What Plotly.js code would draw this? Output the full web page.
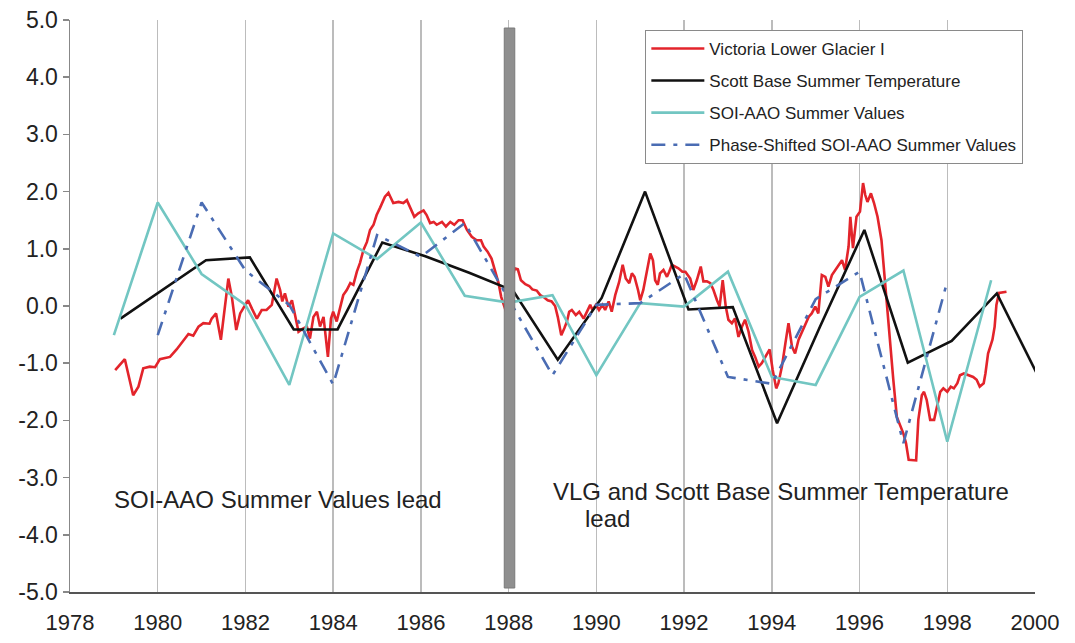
<!DOCTYPE html>
<html>
<head>
<meta charset="utf-8">
<script src="https://cdn.plot.ly/plotly-3.0.1.min.js"></script>
<style>
html,body{margin:0;padding:0;background:#fff;}
#chart{width:1075px;height:643px;}
</style>
</head>
<body>
<div id="chart"></div>
<script>
// Victoria Lower Glacier I (red)
const vlgYears = [1979.03,1979.25,1979.44,1979.56,1979.67,1979.82,1979.94,1980.05,1980.17,1980.28,1980.43,1980.58,1980.70,1980.81,1980.93,1981.04,1981.18,1981.23,1981.33,1981.44,1981.53,1981.61,1981.69,1981.79,1981.88,1981.97,1982.06,1982.15,1982.26,1982.37,1982.48,1982.60,1982.71,1982.79,1982.84,1982.90,1982.98,1983.06,1983.13,1983.21,1983.30,1983.40,1983.47,1983.55,1983.63,1983.70,1983.78,1983.88,1983.95,1984.00,1984.08,1984.16,1984.23,1984.31,1984.39,1984.46,1984.54,1984.61,1984.69,1984.77,1984.84,1984.92,1984.99,1985.07,1985.18,1985.26,1985.37,1985.49,1985.60,1985.68,1985.75,1985.85,1985.94,1986.06,1986.13,1986.21,1986.29,1986.36,1986.48,1986.57,1986.67,1986.76,1986.86,1986.95,1987.05,1987.16,1987.27,1987.37,1987.43,1987.52,1987.61,1987.69,1987.77,1987.83,1987.88,1987.94,1988.00,1988.07,1988.13,1988.21,1988.28,1988.38,1988.47,1988.54,1988.64,1988.72,1988.79,1988.89,1988.98,1989.06,1989.12,1989.20,1989.27,1989.33,1989.38,1989.44,1989.53,1989.61,1989.71,1989.78,1989.86,1989.91,1989.99,1990.06,1990.14,1990.20,1990.28,1990.35,1990.43,1990.52,1990.60,1990.67,1990.75,1990.81,1990.87,1990.95,1991.00,1991.07,1991.15,1991.23,1991.29,1991.34,1991.40,1991.45,1991.53,1991.61,1991.66,1991.72,1991.80,1991.87,1991.96,1992.03,1992.14,1992.21,1992.29,1992.38,1992.44,1992.52,1992.60,1992.67,1992.75,1992.81,1992.88,1992.95,1993.01,1993.09,1993.16,1993.24,1993.32,1993.39,1993.47,1993.55,1993.62,1993.70,1993.77,1993.85,1993.95,1994.02,1994.10,1994.15,1994.23,1994.31,1994.38,1994.46,1994.53,1994.61,1994.69,1994.76,1994.84,1994.91,1994.99,1995.06,1995.14,1995.22,1995.29,1995.37,1995.45,1995.52,1995.60,1995.67,1995.75,1995.79,1995.85,1995.93,1996.01,1996.08,1996.13,1996.18,1996.26,1996.33,1996.41,1996.50,1996.58,1996.70,1996.77,1996.85,1996.93,1997.00,1997.06,1997.12,1997.29,1997.34,1997.42,1997.47,1997.53,1997.61,1997.70,1997.77,1997.84,1997.91,1998.00,1998.08,1998.15,1998.23,1998.29,1998.38,1998.48,1998.59,1998.67,1998.74,1998.83,1998.87,1998.93,1998.98,1999.03,1999.08,1999.12,1999.18,1999.35];
const vlgValues = [-1.12,-0.93,-1.56,-1.41,-1.09,-1.06,-1.07,-0.93,-0.91,-0.89,-0.76,-0.62,-0.49,-0.52,-0.36,-0.30,-0.31,-0.22,-0.13,-0.59,0.02,0.48,0.16,-0.42,-0.13,-0.01,0.10,-0.05,-0.22,-0.07,-0.07,0.02,0.48,0.28,0.08,0.22,-0.01,0.10,-0.16,-0.45,-0.40,-0.36,-0.57,-0.19,-0.10,-0.36,-0.19,-0.89,-0.22,-0.10,-0.27,-0.01,0.19,0.28,0.40,0.37,0.60,0.75,0.98,1.12,1.33,1.42,1.59,1.72,1.91,1.98,1.80,1.82,1.80,1.85,1.74,1.56,1.62,1.67,1.59,1.45,1.47,1.42,1.47,1.39,1.47,1.42,1.50,1.50,1.33,1.21,1.15,1.15,1.04,0.95,0.83,0.63,0.40,0.16,0.05,-0.10,0.05,0.28,0.66,0.64,0.45,0.38,0.35,0.29,0.27,0.19,0.16,0.10,0.08,0.00,-0.19,-0.51,-0.39,-0.27,-0.10,-0.07,-0.16,-0.10,-0.22,-0.10,0.02,-0.07,0.02,-0.07,0.02,-0.07,0.08,-0.10,0.19,0.42,0.72,0.48,0.40,0.57,0.51,0.28,0.10,0.28,0.63,0.92,0.80,0.45,0.37,0.57,0.63,0.51,0.60,0.72,0.69,0.66,0.60,0.60,0.48,0.28,0.45,0.69,0.43,0.43,0.40,0.28,0.10,-0.01,0.45,-0.01,-0.24,-0.30,-0.22,-0.54,-0.36,-0.24,-0.45,-0.77,-0.89,-1.06,-1.00,-0.89,-0.76,-1.12,-1.44,-1.35,-1.06,-0.65,-0.30,-0.71,-0.83,-0.59,-0.45,-0.36,-0.19,-0.13,-0.01,-0.13,0.54,0.51,0.34,0.54,0.63,0.72,0.80,0.63,1.04,1.56,1.01,1.56,1.65,2.15,1.94,1.82,1.97,1.80,1.56,1.15,0.40,-0.59,-1.29,-1.94,-2.11,-2.23,-2.40,-2.69,-2.70,-1.99,-1.56,-1.50,-1.64,-1.99,-1.99,-1.73,-1.50,-1.44,-1.50,-1.41,-1.44,-1.35,-1.21,-1.18,-1.21,-1.24,-1.29,-1.41,-1.35,-1.18,-0.83,-0.71,-0.59,-0.36,0.02,0.23,0.25];

// Scott Base Summer Temperature (black)
const scottYears = [1979.15,1980.12,1981.1,1982.1,1983.1,1984.1,1985.12,1986.1,1987.1,1988.1,1989.12,1990.12,1991.11,1992.1,1993.11,1994.12,1995.1,1996.11,1997.1,1998.1,1999.13,2000.08];
const scottValues = [-0.22,0.28,0.80,0.85,-0.41,-0.41,1.11,0.87,0.58,0.27,-0.94,0.14,2.00,-0.06,-0.02,-2.05,-0.36,1.33,-0.99,-0.61,0.22,-1.24];

// SOI-AAO Summer Values (teal)
const soiYears = [1979,1980,1981,1982,1983,1984,1985,1986,1987,1988,1989,1990,1991,1992,1993,1994,1995,1996,1997,1998,1999];
const soiValues = [-0.51,1.81,0.56,0.02,-1.38,1.27,0.82,1.46,0.18,0.06,0.19,-1.21,0.05,-0.01,0.60,-1.24,-1.38,0.16,0.62,-2.37,0.45];

// Phase-Shifted SOI-AAO Summer Values (blue dash-dot)
const shiftYears = [1980,1981,1982,1983,1984,1985,1986,1987,1988,1989,1990,1991,1992,1993,1994,1995,1996,1997,1998];
const shiftValues = [-0.51,1.81,0.62,0.02,-1.37,1.24,0.86,1.45,0.12,-1.21,0.02,0.05,0.56,-1.24,-1.36,0.12,0.60,-2.40,0.43];

const yTickVals = [-5,-4,-3,-2,-1,0,1,2,3,4,5];
const yTickText = ["-5.0","-4.0","-3.0","-2.0","-1.0","0.0","1.0","2.0","3.0","4.0","5.0"];
const xTickVals = [1978,1980,1982,1984,1986,1988,1990,1992,1994,1996,1998,2000];

const FONT = "Liberation Sans, Arial, Helvetica, sans-serif";

const traces = [
  {x: vlgYears, y: vlgValues, mode: "lines", name: "Victoria Lower Glacier I", legendgroup: "a",
   line: {color: "#e3242b", width: 2.6}},
  {x: scottYears, y: scottValues, mode: "lines", name: "Scott Base Summer Temperature", legendgroup: "b",
   line: {color: "#111111", width: 2.6}},
  {x: soiYears, y: soiValues, mode: "lines", name: "SOI-AAO Summer Values", legendgroup: "c",
   line: {color: "#72c6c2", width: 2.6}},
  {x: shiftYears, y: shiftValues, mode: "lines", name: "Phase-Shifted SOI-AAO Summer Values", legendgroup: "d",
   line: {color: "#4a6cb3", width: 2.6, dash: "14px,8px,4px,8px"}}
];

const layout = {
  width: 1075, height: 643,
  margin: {l: 70, r: 40, t: 20, b: 51},
  paper_bgcolor: "#ffffff", plot_bgcolor: "#ffffff",
  font: {family: FONT, color: "#222"},
  showlegend: true,
  legend: {
    x: 0.596, y: 0.983, xanchor: "left", yanchor: "top",
    bgcolor: "#ffffff", bordercolor: "#8a8a8a", borderwidth: 1.2,
    font: {family: FONT, size: 17, color: "#222"},
    tracegroupgap: 7, itemwidth: 53
  },
  xaxis: {
    range: [1978, 2000], tickvals: xTickVals, ticktext: xTickVals.map(String),
    showgrid: true, gridcolor: "#bcbcbc", gridwidth: 1.5,
    zeroline: false, showline: true, linecolor: "#555", linewidth: 2,
    ticks: "outside", ticklen: 10, tickcolor: "rgba(255,255,255,0)",
    tickfont: {family: FONT, size: 22, color: "#222"}, fixedrange: true
  },
  yaxis: {
    range: [-5, 5], tickvals: yTickVals, ticktext: yTickText,
    showgrid: false, zeroline: false, showline: true, linecolor: "#888", linewidth: 1.5,
    ticks: "outside", ticklen: 6, tickcolor: "#888", tickwidth: 1.5,
    tickfont: {family: FONT, size: 23, color: "#222"}, fixedrange: true
  },
  shapes: [
    {type: "rect", xref: "x", yref: "y", x0: 1987.9, x1: 1988.14, y0: -4.93, y1: 4.86,
     fillcolor: "#8f8f8f", line: {color: "#7a7a7a", width: 1}, layer: "above"}
  ],
  annotations: [
    {xref: "paper", yref: "paper", x: 0.0435, y: 0.161, xanchor: "left", yanchor: "middle",
     text: "SOI-AAO Summer Values lead", showarrow: false,
     font: {family: FONT, size: 24, color: "#222"}},
    {xref: "paper", yref: "paper", x: 0.4984, y: 0.175, xanchor: "left", yanchor: "middle",
     text: "VLG and Scott Base Summer Temperature", showarrow: false,
     font: {family: FONT, size: 24, color: "#222"}},
    {xref: "paper", yref: "paper", x: 0.5316, y: 0.128, xanchor: "left", yanchor: "middle",
     text: "lead", showarrow: false,
     font: {family: FONT, size: 24, color: "#222"}}
  ]
};

Plotly.newPlot("chart", traces, layout, {displayModeBar: false, staticPlot: true});
</script>
</body>
</html>
